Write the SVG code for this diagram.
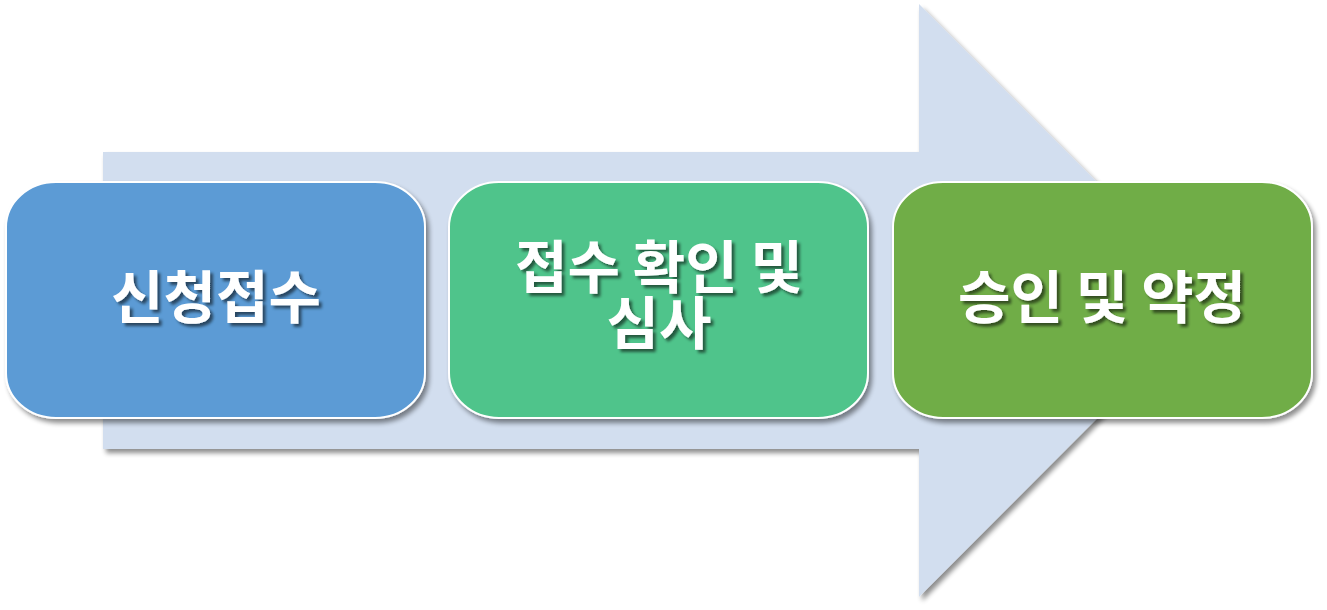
<svg xmlns="http://www.w3.org/2000/svg" width="1327" height="610" viewBox="0 0 1327 610">
<defs>
<filter id="sh" x="-10%" y="-10%" width="125%" height="125%">
<feGaussianBlur in="SourceAlpha" stdDeviation="2.5"/>
<feOffset dx="3" dy="4" result="b"/>
<feComponentTransfer><feFuncA type="linear" slope="0.45"/></feComponentTransfer>
<feMerge><feMergeNode/><feMergeNode in="SourceGraphic"/></feMerge>
</filter>
<filter id="tsh" x="-10%" y="-20%" width="130%" height="150%">
<feGaussianBlur in="SourceAlpha" stdDeviation="1.5"/>
<feOffset dx="3" dy="3"/>
<feComponentTransfer><feFuncA type="linear" slope="0.55"/></feComponentTransfer>
<feMerge><feMergeNode/><feMergeNode in="SourceGraphic"/></feMerge>
</filter>
</defs>
<style>
.box{stroke:#ffffff;stroke-width:2}
.t{font-family:"Noto Sans CJK KR","Noto Sans",sans-serif;font-weight:bold;font-size:57px;fill:#ffffff;text-anchor:middle}
</style>
<g id="arrow" filter="url(#sh)">
<polygon points="103,152 919,152 919,4 1215,300 919,597 919,449 103,449" fill="#D2DEEF"/>
</g>
<g id="connectors"></g>
<g id="node1" filter="url(#sh)">
<rect class="box" x="6" y="182" width="419" height="236" rx="50" ry="45" fill="#5B9BD5"/>
<text class="t" x="216" y="318" filter="url(#tsh)">신청접수</text>
</g>
<g id="node2" filter="url(#sh)">
<rect class="box" x="449" y="182" width="419" height="236" rx="50" ry="45" fill="#4FC48B"/>
<text class="t" filter="url(#tsh)"><tspan x="659" y="288">접수 확인 및</tspan><tspan x="659" y="344">심사</tspan></text>
</g>
<g id="node3" filter="url(#sh)">
<rect class="box" x="893" y="182" width="419" height="236" rx="50" ry="45" fill="#70AD47"/>
<text class="t" x="1102" y="318" filter="url(#tsh)">승인 및 약정</text>
</g>
</svg>
